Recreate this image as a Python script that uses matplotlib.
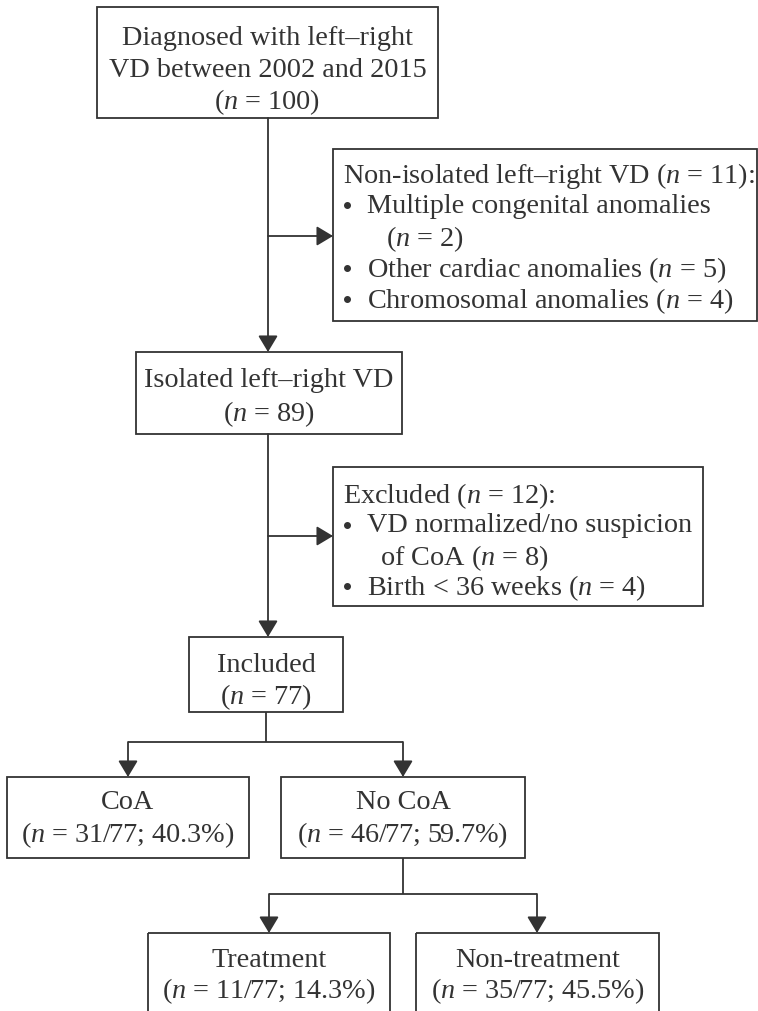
import matplotlib
matplotlib.use("Agg")
import matplotlib.pyplot as plt
from matplotlib.patches import Rectangle, FancyArrowPatch

plt.rcParams['font.family'] = ['Liberation Serif', 'DejaVu Serif']
plt.rcParams['mathtext.fontset'] = 'custom'
plt.rcParams['mathtext.rm'] = 'Liberation Serif'
plt.rcParams['mathtext.it'] = 'Liberation Serif:italic'

# counts
n_total = 100
n_nonisolated = 11
n_multiple = 2
n_cardiac = 5
n_chromosomal = 4
n_isolated = 89
n_excluded = 12
n_normalized = 8
n_preterm = 4
n_included = 77
n_coa = 31
n_nocoa = 46
n_treat = 11
n_nontreat = 35
pct_coa = "40.3"
pct_nocoa = "59.7"
pct_treat = "14.3"
pct_nontreat = "45.5"

N = r"$\mathit{n}$"
C = "#333333"
FS = 20.3
LW = 1.3


def nn(v):
    return "(" + N + " = " + str(v) + ")"


def frac(v, pct):
    return "(" + N + " = " + str(v) + "/" + str(n_included) + "; " + pct + "%)"


fig = plt.figure(figsize=(7.58, 10.12), dpi=100)
ax = fig.add_axes([0, 0, 1, 1])
ax.set_xlim(0, 758)
ax.set_ylim(1012, 0)
ax.axis("off")


def box(x0, x1, y0, y1):
    ax.add_patch(Rectangle((x0, y0), x1 - x0, y1 - y0, fill=False,
                           edgecolor=C, linewidth=LW))


def ctext(x0, x1, ys, lines):
    for y, s in zip(ys, lines):
        ax.text((x0 + x1) / 2, y, s, ha="center", va="center_baseline",
                fontsize=FS, color=C)


def ltext(x, y, s):
    ax.text(x, y, s, ha="left", va="center_baseline", fontsize=FS, color=C)


def bullet(x, y):
    # small round dot at mid x-height
    ax.plot([x], [y + 3], marker="o", markersize=4, color=C)


def line(xs, ys):
    ax.plot(xs, ys, color=C, linewidth=LW, solid_capstyle="butt")


def arrow(x0, y0, x1, y1):
    ax.add_patch(FancyArrowPatch((x0, y0), (x1, y1),
                                 arrowstyle="-|>,head_length=0.5,head_width=0.3",
                                 mutation_scale=20, color=C, linewidth=LW,
                                 shrinkA=0, shrinkB=0))


# top box
box(97, 438, 8, 119)
ctext(97, 438, [35, 67, 98],
      ["Diagnosed with left\u2013right", "VD between 2002 and 2015", nn(n_total)])

# non-isolated box
box(333, 757, 150, 322)
ltext(343, 172, "Non-isolated left\u2013right VD " + nn(n_nonisolated) + ":")
bullet(347, 203)
ltext(367, 203, "Multiple congenital anomalies")
ltext(386, 235, nn(n_multiple))
bullet(347, 266)
ltext(367, 266, "Other cardiac anomalies " + nn(n_cardiac))
bullet(347, 297)
ltext(367, 297, "Chromosomal anomalies " + nn(n_chromosomal))

arrow(268, 119, 268, 353)
arrow(268, 237, 333, 237)

# isolated box
box(136, 402, 353, 435)
ctext(136, 402, [377, 410], ["Isolated left\u2013right VD", nn(n_isolated)])

# excluded box
box(333, 703, 468, 607)
ltext(343, 492, "Excluded " + nn(n_excluded) + ":")
bullet(347, 523)
ltext(367, 523, "VD normalized/no suspicion")
ltext(380, 554, "of CoA " + nn(n_normalized))
bullet(347, 584)
ltext(367, 584, "Birth < 36 weeks " + nn(n_preterm))

arrow(268, 435, 268, 638)
arrow(268, 537, 333, 537)

# included box
box(189, 343, 638, 713)
ctext(189, 343, [662, 693], ["Included", nn(n_included)])

line([266, 266], [713, 743])
line([128, 403], [743, 743])
arrow(128, 743, 128, 778)
arrow(403, 743, 403, 778)

# CoA / No CoA
box(7, 249, 778, 859)
ctext(7, 249, [800, 831], ["CoA", frac(n_coa, pct_coa)])
box(281, 525, 778, 859)
ctext(281, 525, [800, 831], ["No CoA", frac(n_nocoa, pct_nocoa)])

line([403, 403], [859, 895])
line([269, 537], [895, 895])
arrow(269, 895, 269, 934)
arrow(537, 895, 537, 934)

# treatment boxes
box(148, 390, 934, 1040)
ctext(148, 390, [958, 987], ["Treatment", frac(n_treat, pct_treat)])
box(416, 659, 934, 1040)
ctext(416, 659, [958, 987], ["Non-treatment", frac(n_nontreat, pct_nontreat)])

plt.savefig("out.png", dpi=100)
